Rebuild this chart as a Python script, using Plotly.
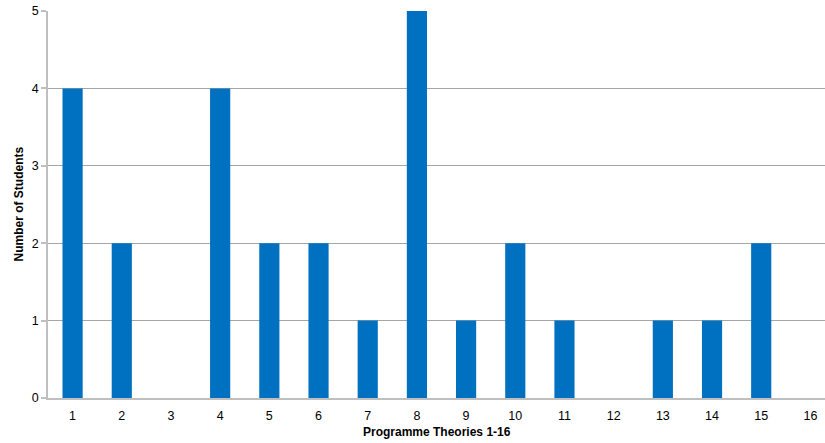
import plotly.graph_objects as go

categories = [str(i) for i in range(1, 17)]
students = [4, 2, 0, 4, 2, 2, 1, 5, 1, 2, 1, 0, 1, 1, 2, 0]
y_ticks = [0, 1, 2, 3, 4, 5]

fig = go.Figure(go.Bar(
    x=categories, y=students,
    marker=dict(color="#0070C0", line=dict(width=0)),
    hoverinfo="skip",
))

axis_grey = "#BFBFBF"
grid_grey = "#A6A6A6"
fig.update_layout(
    width=835, height=443,
    margin=dict(l=48, r=0, t=11, b=45),
    plot_bgcolor="white", paper_bgcolor="white",
    bargap=0.59,
    showlegend=False,
    font=dict(family="Liberation Sans, Arial, sans-serif", size=12.5, color="#000000"),
    xaxis=dict(
        type="category", categoryorder="array", categoryarray=categories,
        showline=True, linecolor=axis_grey, linewidth=1.5,
        ticks="", showgrid=False, automargin=False,
        ticklabelstandoff=5,
        tickfont=dict(size=12.5),
    ),
    yaxis=dict(
        range=[0, 5], tickvals=y_ticks,
        showline=True, linecolor=axis_grey, linewidth=1.5,
        ticks="outside", ticklen=5, tickcolor=axis_grey, tickwidth=1.5,
        showgrid=True, gridcolor=grid_grey, gridwidth=1,
        zeroline=False, automargin=False,
        tickfont=dict(size=12.5),
    ),
    annotations=[
        dict(text="<b>Programme Theories 1-16</b>", xref="paper", yref="paper",
             x=(436.5 - 48) / 787, y=0, yshift=-34, showarrow=False, font=dict(size=12),
             xanchor="center", yanchor="middle"),
        dict(text="<b>Number of Students</b>", xref="paper", yref="paper",
             x=0, y=0.5, xshift=-30, showarrow=False, font=dict(size=12),
             textangle=-90, xanchor="center", yanchor="middle"),
    ],
)

fig.write_html(
    "out.html",
    config={"displayModeBar": False},
    post_script="document.body.style.margin='0';document.body.style.overflow='hidden';",
)
